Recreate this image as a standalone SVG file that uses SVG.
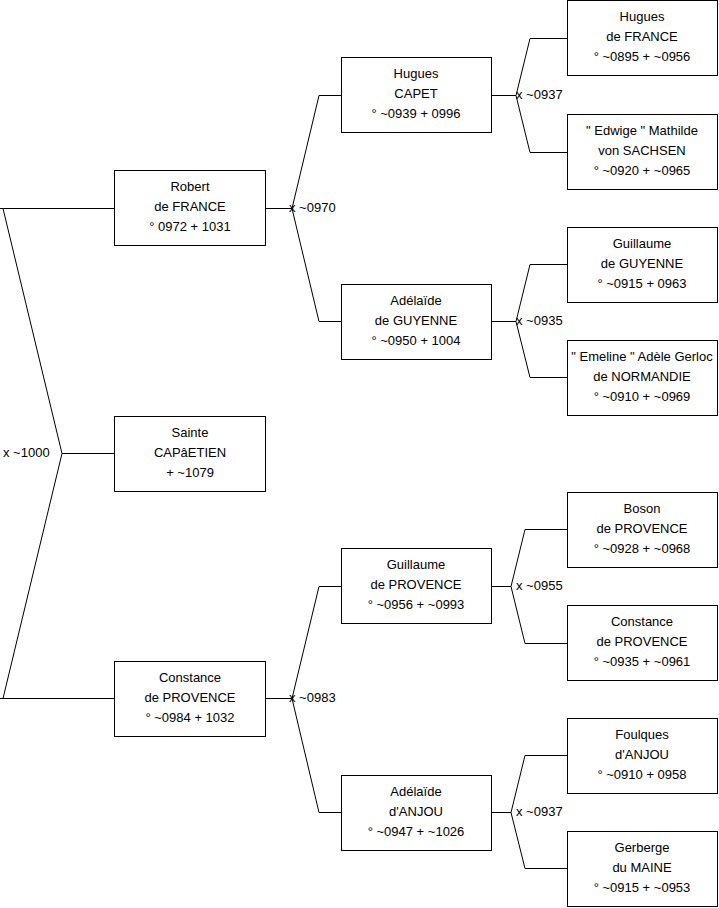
<svg xmlns="http://www.w3.org/2000/svg" width="719" height="908" viewBox="0 0 719 908">
<style>
.box{fill:#fff;stroke:#000;stroke-width:1}
.t{font-family:"Liberation Sans",Arial,sans-serif;font-size:13px;fill:#000;text-anchor:middle}
.l{font-family:"Liberation Sans",Arial,sans-serif;font-size:13px;fill:#000}
.c{fill:none;stroke:#000;stroke-width:1}
</style>
<rect width="719" height="908" fill="#fff"/>
<g id="connectors">
<path class="c" d="M0,208.5H114.5M3,208.5L62,453.5H114.5M62,453.5L3,698.5H0M3,698.5H114.5"/>
<path class="c" d="M265,208.5H292M319,95.5L292,208.5L319,321.5M319,95.5H341M319,321.5H341"/>
<path class="c" d="M265,698.5H292M319,586.5L292,698.5L319,812.5M319,586.5H341M319,812.5H341"/>
<path class="c" d="M492,95.5H516M530,38.5L516,95.5L530,152.5M530,38.5H567M530,152.5H567"/>
<path class="c" d="M492,321.5H516M530,264.5L516,321.5L530,377.5M530,264.5H567M530,377.5H567"/>
<path class="c" d="M492,586.5H511M525,529.5L511,586.5L525,643.5M525,529.5H567M525,643.5H567"/>
<path class="c" d="M492,812.5H511M525,755.5L511,812.5L525,868.5M525,755.5H567M525,868.5H567"/>
<text class="l" x="3" y="457">x ~1000</text>
<text class="l" x="289" y="212">x ~0970</text>
<text class="l" x="289" y="702">x ~0983</text>
<text class="l" x="516" y="99">x ~0937</text>
<text class="l" x="516" y="325">x ~0935</text>
<text class="l" x="516" y="590">x ~0955</text>
<text class="l" x="516" y="816">x ~0937</text>
</g>
<g id="robert"><rect class="box" x="114.5" y="170.5" width="151" height="75"/><text class="t" x="190" y="191">Robert</text><text class="t" x="190" y="211">de FRANCE</text><text class="t" x="190" y="231">° 0972 + 1031</text></g>
<g id="sainte"><rect class="box" x="114.5" y="416.5" width="151" height="75"/><text class="t" x="190" y="437">Sainte</text><text class="t" x="190" y="457">CAPâETIEN</text><text class="t" x="190" y="477">+ ~1079</text></g>
<g id="constance1"><rect class="box" x="114.5" y="661.5" width="151" height="75"/><text class="t" x="190" y="682">Constance</text><text class="t" x="190" y="702">de PROVENCE</text><text class="t" x="190" y="722">° ~0984 + 1032</text></g>
<g id="hugues-capet"><rect class="box" x="341.5" y="57.5" width="150" height="75"/><text class="t" x="416" y="78">Hugues</text><text class="t" x="416" y="98">CAPET</text><text class="t" x="416" y="118">° ~0939 + 0996</text></g>
<g id="adelaide-guyenne"><rect class="box" x="341.5" y="284.5" width="150" height="75"/><text class="t" x="416" y="305">Adélaïde</text><text class="t" x="416" y="325">de GUYENNE</text><text class="t" x="416" y="345">° ~0950 + 1004</text></g>
<g id="guillaume-provence"><rect class="box" x="341.5" y="548.5" width="150" height="75"/><text class="t" x="416" y="569">Guillaume</text><text class="t" x="416" y="589">de PROVENCE</text><text class="t" x="416" y="609">° ~0956 + ~0993</text></g>
<g id="adelaide-anjou"><rect class="box" x="341.5" y="775.5" width="150" height="75"/><text class="t" x="416" y="796">Adélaïde</text><text class="t" x="416" y="816">d'ANJOU</text><text class="t" x="416" y="836">° ~0947 + ~1026</text></g>
<g id="hugues-france"><rect class="box" x="567.5" y="0.5" width="150" height="75"/><text class="t" x="642" y="21">Hugues</text><text class="t" x="642" y="41">de FRANCE</text><text class="t" x="642" y="61">° ~0895 + ~0956</text></g>
<g id="edwige"><rect class="box" x="567.5" y="114.5" width="150" height="75"/><text class="t" x="642" y="135">" Edwige " Mathilde</text><text class="t" x="642" y="155">von SACHSEN</text><text class="t" x="642" y="175">° ~0920 + ~0965</text></g>
<g id="guillaume-guyenne"><rect class="box" x="567.5" y="227.5" width="150" height="75"/><text class="t" x="642" y="248">Guillaume</text><text class="t" x="642" y="268">de GUYENNE</text><text class="t" x="642" y="288">° ~0915 + 0963</text></g>
<g id="emeline"><rect class="box" x="567.5" y="340.5" width="150" height="75"/><text class="t" x="642" y="361">" Emeline " Adèle Gerloc</text><text class="t" x="642" y="381">de NORMANDIE</text><text class="t" x="642" y="401">° ~0910 + ~0969</text></g>
<g id="boson"><rect class="box" x="567.5" y="492.5" width="150" height="75"/><text class="t" x="642" y="513">Boson</text><text class="t" x="642" y="533">de PROVENCE</text><text class="t" x="642" y="553">° ~0928 + ~0968</text></g>
<g id="constance2"><rect class="box" x="567.5" y="605.5" width="150" height="75"/><text class="t" x="642" y="626">Constance</text><text class="t" x="642" y="646">de PROVENCE</text><text class="t" x="642" y="666">° ~0935 + ~0961</text></g>
<g id="foulques"><rect class="box" x="567.5" y="718.5" width="150" height="75"/><text class="t" x="642" y="739">Foulques</text><text class="t" x="642" y="759">d'ANJOU</text><text class="t" x="642" y="779">° ~0910 + 0958</text></g>
<g id="gerberge"><rect class="box" x="567.5" y="831.5" width="150" height="75"/><text class="t" x="642" y="852">Gerberge</text><text class="t" x="642" y="872">du MAINE</text><text class="t" x="642" y="892">° ~0915 + ~0953</text></g>
</svg>
